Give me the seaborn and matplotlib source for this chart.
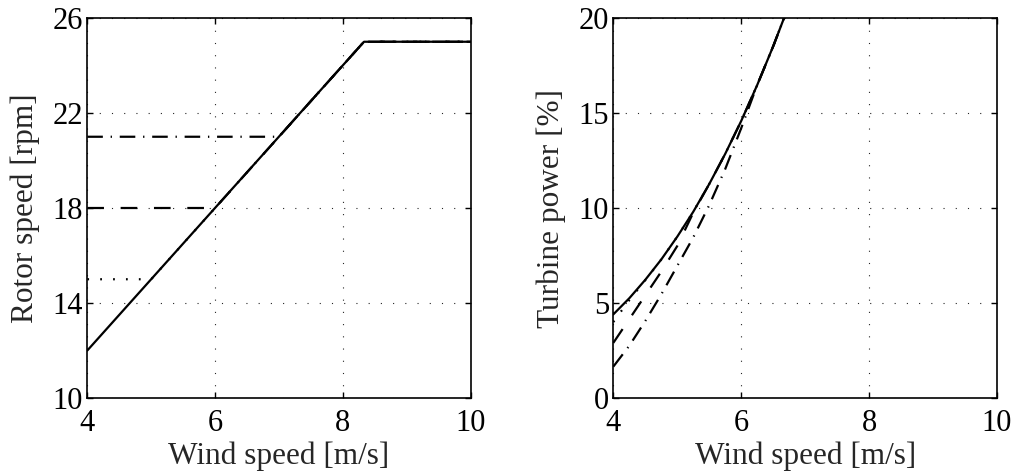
import matplotlib
matplotlib.use("Agg")
import matplotlib.pyplot as plt
import seaborn as sns

# ---------------- data ----------------
# Left panel: rotor speed vs wind speed
wind_rot = [4.0, 8.33, 10.0]
rot_opt = [12.0, 25.0, 25.0]
wind_rot15 = [4.0, 5.0, 8.33, 10.0]
rot_min15 = [15.0, 15.0, 25.0, 25.0]
wind_rot18 = [4.0, 6.0, 8.33, 10.0]
rot_min18 = [18.0, 18.0, 25.0, 25.0]
wind_rot21 = [4.0, 7.0, 8.33, 10.0]
rot_min21 = [21.0, 21.0, 25.0, 25.0]

# Right panel: turbine power vs wind speed
wind_pw = [4.0, 4.25, 4.5, 4.75, 5.0, 5.25, 5.5, 5.75, 6.0, 6.25, 6.5, 6.67, 6.75]
pw_opt = [4.4, 5.25, 6.22, 7.29, 8.49, 9.80, 11.26, 12.85, 14.58, 16.47, 18.51, 20.0, 20.7]
pw_min15 = [4.0, 5.15, 6.2, 7.29, 8.49, 9.80, 11.26, 12.85, 14.58, 16.47, 18.51, 20.0, 20.7]
pw_min18 = [2.9, 4.15, 5.4, 6.65, 8.0, 9.75, 11.26, 12.85, 14.58, 16.47, 18.51, 20.0, 20.7]
pw_min21 = [1.65, 2.75, 4.05, 5.45, 6.95, 8.45, 10.15, 12.05, 14.2, 16.47, 18.51, 20.0, 20.7]

x_ticks = [4, 6, 8, 10]
rot_ticks = [10, 14, 18, 22, 26]
pw_ticks = [0, 5, 10, 15, 20]

# ---------------- style ----------------
sns.set_style("white")
plt.rcParams["font.family"] = ["Liberation Serif", "DejaVu Serif"]
plt.rcParams["mathtext.fontset"] = "stix"

FS_TICK = 22
FS_LAB = 22.5
W, H = 1012, 472
fig = plt.figure(figsize=(W / 100, H / 100), dpi=100)

def px_axes(x0, x1, y0, y1):
    return fig.add_axes([x0 / W, 1 - y1 / H, (x1 - x0) / W, (y1 - y0) / H])

ax1 = px_axes(87.3, 470.7, 18, 398)
ax2 = px_axes(613.3, 997, 18, 398)

LW = 1.6
ls_dashdot = (0, (7, 3.5, 0.6, 3.5))
ls_dashed = (0, (7.5, 7.5))
ls_dotted = (0, (0.8, 5.0))

def draw(ax, x, y, ls):
    sns.lineplot(x=x, y=y, ax=ax, color="black", linewidth=LW, linestyle=ls,
                 estimator=None, sort=False)

# left panel
draw(ax1, wind_rot21, rot_min21, ls_dashdot)
draw(ax1, wind_rot18, rot_min18, ls_dashed)
draw(ax1, wind_rot15, rot_min15, ls_dotted)
draw(ax1, wind_rot, rot_opt, "-")

# right panel
draw(ax2, wind_pw, pw_min21, ls_dashdot)
draw(ax2, wind_pw, pw_min18, ls_dashed)
draw(ax2, wind_pw, pw_min15, ls_dotted)
draw(ax2, wind_pw, pw_opt, "-")

for ax, yt, ylim, ylab in [(ax1, rot_ticks, (10, 26), "Rotor speed [rpm]"),
                           (ax2, pw_ticks, (0, 20), "Turbine power [%]")]:
    ax.set_xlim(4, 10)
    ax.set_ylim(*ylim)
    ax.set_xticks(x_ticks)
    ax.set_yticks(yt)
    ax.set_xticklabels([str(t) for t in x_ticks])
    ax.set_yticklabels([str(t) for t in yt])
    ax.grid(True, color="0.15", linewidth=0.8, linestyle=(0, (1, 10)))
    for s in ax.spines.values():
        s.set_visible(True)
        s.set_color("black")
        s.set_linewidth(1.2)
    ax.tick_params(direction="in", length=4, width=1.0, top=True, right=True,
                   bottom=True, left=True, labelsize=FS_TICK, colors="black")
    ax.tick_params(axis="x", pad=8)
    ax.tick_params(axis="y", pad=3)
    ax.set_xlabel("Wind speed [m/s]", fontsize=FS_LAB)
    ax.set_ylabel(ylab, fontsize=FS_LAB)
    ax.xaxis.set_label_coords(0.5, -0.115)
    ax.yaxis.set_label_coords(-0.123, 0.5)

fig.savefig("out.png", dpi=100)
